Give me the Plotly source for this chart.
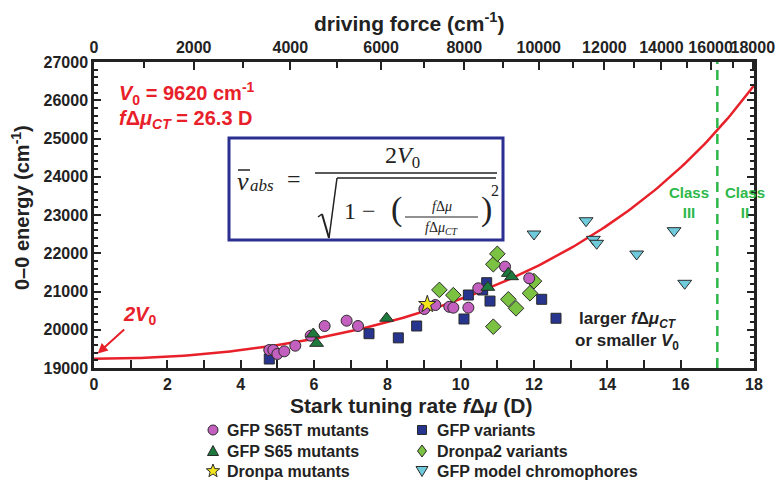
import numpy as np
import plotly.graph_objects as go

# ---------------- data ----------------
V0 = 9620.0          # cm-1
F_CT = 26.3          # D

s65t_x = [4.78, 4.89, 5.00, 5.19, 5.49, 5.91, 6.29, 6.89, 7.20, 9.01, 9.31, 9.69, 9.80, 10.21, 10.48, 11.21, 11.87]
s65t_y = [19470, 19470, 19366, 19436, 19583, 19845, 20098, 20237, 20098, 20542, 20647, 20600, 20577, 20577, 21084, 21650, 21345]

s65_x = [5.98, 6.07, 7.98, 10.74, 11.30, 11.39]
s65_y = [19889, 19645, 20300, 21110, 21475, 21387]

dronpa_x = [9.09]
dronpa_y = [20665]

gfpvar_x = [4.78, 7.50, 8.30, 8.80, 10.09, 10.21, 10.60, 10.71, 10.80, 12.21, 12.60]
gfpvar_y = [19235, 19897, 19788, 20098, 20281, 20908, 21040, 21230, 20750, 20796, 20300]

dronpa2_x = [9.42, 9.80, 10.89, 11.00, 10.89, 11.30, 11.51, 11.89, 12.00]
dronpa2_y = [21042, 20905, 21712, 21985, 20080, 20796, 20560, 20953, 21270]

model_x = [12.00, 13.42, 13.62, 13.71, 14.80, 15.82, 16.11]
model_y = [22503, 22850, 22364, 22260, 21980, 22590, 21214]

top_major = [0, 2000, 4000, 6000, 8000, 10000, 12000, 14000, 16000, 18000]
top_minor = [1000, 3000, 5000, 7000, 9000, 11000, 13000, 15000, 17000]

class_boundary = 17.0

# ---------------- helpers ----------------
PX0, PX1, PY0, PY1 = 94, 754, 62, 368
def P(px, py):
    return (px - PX0) / (PX1 - PX0), (PY1 - py) / (PY1 - PY0)

def drive_to_x(d):
    d = np.asarray(d, dtype=float)
    return F_CT * d / np.sqrt(d ** 2 + (2 * V0) ** 2)

FONT = "Liberation Sans"
SERIF = "Liberation Serif"
RED = "#e8202a"
GREEN = "#2db84a"
INK = "#222222"
EDGE = dict(color="#2a2a2a", width=1)

fig = go.Figure()

xc = np.linspace(0, 18, 200)
yc = 2 * V0 / np.sqrt(1 - (xc / F_CT) ** 2)
fig.add_trace(go.Scatter(x=xc, y=yc, mode="lines", line=dict(color=RED, width=2.5),
                         showlegend=False, hoverinfo="skip"))

# (x, y, name, symbol, colour, size, legend column, legend row)
series = [
    (gfpvar_x, gfpvar_y, "GFP variants", "square", "#27358f", 10, 1, 0),
    (dronpa2_x, dronpa2_y, "Dronpa2 variants", "diamond", "#7cc242", 12, 1, 1),
    (model_x, model_y, "GFP model chromophores", "triangle-down", "#6fcbdc", 12, 1, 2),
    (s65t_x, s65t_y, "GFP S65T mutants", "circle", "#c25fbf", 11, 0, 0),
    (s65_x, s65_y, "GFP S65 mutants", "triangle-up", "#1d7a3c", 12, 0, 1),
    (dronpa_x, dronpa_y, "Dronpa mutants", "star", "#f3e51c", 13, 0, 2),
]
for x, y, name, sym, col, size, c, r in series:
    fig.add_trace(go.Scatter(x=x, y=y, mode="markers", name=name, showlegend=False,
                             marker=dict(symbol=sym, color=col, size=size, line=EDGE)))

# invisible trace to hold the top axis
fig.add_trace(go.Scatter(x=[0, 18], y=[19000, 19000], xaxis="x2", mode="lines",
                         line=dict(width=0), opacity=0, showlegend=False, hoverinfo="skip"))

tickfont = dict(family=FONT, size=16, color=INK, weight="bold")
fig.update_layout(
    width=779, height=481, showlegend=False,
    margin=dict(l=PX0, r=779 - PX1, t=PY0, b=481 - PY1, autoexpand=False),
    paper_bgcolor="white", plot_bgcolor="white",
    font=dict(family=FONT, color=INK),
    xaxis=dict(range=[0, 18], tickvals=list(range(0, 19, 2)), ticks="inside", ticklen=8, tickwidth=2,
               minor=dict(dtick=1, ticks="inside", ticklen=8, tickwidth=2, tickcolor=INK),
               showline=True, linewidth=2.5, linecolor=INK, mirror=False, showgrid=False, zeroline=False,
               tickfont=tickfont, tickcolor=INK, tickangle=0, automargin=False),
    xaxis2=dict(overlaying="x", side="top", range=[0, 18], tickmode="array",
                tickvals=list(drive_to_x(top_major)), ticktext=[str(v) for v in top_major],
                ticks="inside", ticklen=8, tickwidth=2, tickcolor=INK, tickangle=0, automargin=False,
                minor=dict(tickmode="array", tickvals=list(drive_to_x(top_minor)), ticks="inside",
                           ticklen=6, tickwidth=2, tickcolor=INK),
                showline=True, linewidth=2.5, linecolor=INK, showgrid=False, zeroline=False,
                tickfont=tickfont),
    yaxis=dict(range=[19000, 27000], dtick=1000, ticks="inside", ticklen=7, tickwidth=2, tickcolor=INK,
               minor=dict(dtick=200, ticks="inside", ticklen=4, tickwidth=1.5, tickcolor=INK),
               showline=True, linewidth=2.5, linecolor=INK, mirror="ticks", showgrid=False, zeroline=False,
               tickfont=tickfont, tickformat="d", automargin=False),
)

# class boundary
fig.add_shape(type="line", x0=class_boundary, x1=class_boundary, y0=19000, y1=27000, xref="x", yref="y",
              line=dict(color=GREEN, width=2.5, dash="10px,6px"))

ann = []
def A(px, py, text, size, color=INK, family=FONT, xanchor="center", align="center", angle=0):
    x, y = P(px, py)
    ann.append(dict(x=x, y=y, xref="paper", yref="paper", text=text, showarrow=False,
                    xanchor=xanchor, yanchor="middle", align=align, textangle=angle,
                    font=dict(family=family, size=size, color=color)))

# ---- manual legend (symbols drawn as shapes, names as text) ----
LEG_COL_MARK = [213, 422]
LEG_COL_TEXT = [225, 435]
LEG_ROW_Y = [430, 451, 471]

def path_shape(pts, color):
    d = "M " + " L ".join(f"{P(px, py)[0]:.5f},{P(px, py)[1]:.5f}" for px, py in pts) + " Z"
    fig.add_shape(type="path", xref="paper", yref="paper", path=d, fillcolor=color,
                  line=dict(color="#2a2a2a", width=1), layer="above")

def legend_symbol(sym, color, cx, cy):
    if sym == "circle":
        (x0, y0), (x1, y1) = P(cx - 5, cy + 5), P(cx + 5, cy - 5)
        fig.add_shape(type="circle", xref="paper", yref="paper", x0=x0, y0=y0, x1=x1, y1=y1,
                      fillcolor=color, line=dict(color="#2a2a2a", width=1), layer="above")
    elif sym == "square":
        path_shape([(cx - 4.5, cy - 4.5), (cx + 4.5, cy - 4.5), (cx + 4.5, cy + 4.5), (cx - 4.5, cy + 4.5)], color)
    elif sym == "diamond":
        path_shape([(cx, cy - 6), (cx + 4.5, cy), (cx, cy + 6), (cx - 4.5, cy)], color)
    elif sym == "triangle-up":
        path_shape([(cx, cy - 5.5), (cx + 5.5, cy + 4.5), (cx - 5.5, cy + 4.5)], color)
    elif sym == "triangle-down":
        path_shape([(cx - 6, cy - 4.5), (cx + 6, cy - 4.5), (cx, cy + 5.5)], color)
    elif sym == "star":
        pts = []
        for k in range(10):
            ang = -np.pi / 2 + k * np.pi / 5
            rad = 7 if k % 2 == 0 else 3
            pts.append((cx + rad * np.cos(ang), cy + rad * np.sin(ang)))
        path_shape(pts, color)

for x, y, name, sym, col, size, c, r in series:
    legend_symbol(sym, col, LEG_COL_MARK[c], LEG_ROW_Y[r])
    A(LEG_COL_TEXT[c], LEG_ROW_Y[r], f"<b>{name}</b>", 16, xanchor="left")

# axis titles
A(409, 22, "<b>driving force (cm<sup>-1</sup>)</b>", 21)
A(411, 405, "<b>Stark tuning rate <i>f</i>Δ<i>μ</i> (D)</b>", 21)
A(20, 208, "<b>0–0 energy (cm<sup>-1</sup>)</b>", 20, angle=-90)

A(117, 93, "<b><i>V</i><sub>0</sub> = 9620 cm<sup>-1</sup></b>", 20, RED, xanchor="left")
A(117, 119, "<b><i>f</i>Δ<i>μ</i><sub><i>CT</i></sub> = 26.3 D</b>", 20, RED, xanchor="left")
A(689, 202, "<b>Class<br>III</b>", 15, GREEN)
A(745, 202, "<b>Class<br>II</b>", 15, GREEN)
A(627, 331, "<b>larger <i>f</i>Δ<i>μ</i><sub><i>CT</i></sub><br>or smaller <i>V</i><sub>0</sub></b>", 17)

# formula box
bx0, by0 = P(229, 240)
bx1, by1 = P(503, 138)
fig.add_shape(type="rect", xref="paper", yref="paper", x0=bx0, x1=bx1, y0=by0, y1=by1,
              line=dict(color="#2b2f8f", width=3), fillcolor="white", layer="above")
A(243, 181, "<i>ν</i>", 26, family=SERIF)
A(262, 185, "<i>abs</i>", 17, family=SERIF)
A(294, 179, "=", 24, family=SERIF)
A(402, 157, "2<i>V</i><sub>0</sub>", 24, family=SERIF)
A(360, 211, "1 −", 24, family=SERIF)
A(396, 209, "(", 34, family=SERIF)
A(486, 209, ")", 34, family=SERIF)
A(495, 190, "2", 16, family=SERIF)
A(442, 206, "<i>f</i>Δ<i>μ</i>", 14, family=SERIF)
A(442, 228, "<i>f</i>Δ<i>μ</i><sub><i>CT</i></sub>", 14, family=SERIF)

def seg(p, q, w=1.5):
    a, b = P(*p); c, d = P(*q)
    fig.add_shape(type="line", xref="paper", yref="paper", x0=a, y0=b, x1=c, y1=d,
                  line=dict(color=INK, width=w), layer="above")
seg((238, 170), (250, 170))     # macron over nu
seg((315, 173), (497, 173))     # main fraction bar
seg((405, 217), (478, 217), 1)  # inner fraction bar
seg((318, 217), (322, 214))
seg((322, 214), (329, 238), 2)
seg((329, 238), (337, 178))
seg((337, 178), (496, 178))

# 2V0 arrow
ann.append(dict(x=0.1, y=19380, xref="x", yref="y", text="<b><i>2V</i><sub>0</sub></b>",
                showarrow=True, arrowhead=2, arrowsize=1, arrowwidth=2, arrowcolor=RED,
                ax=42, ay=-38, font=dict(family=FONT, size=20, color=RED)))
fig.update_layout(annotations=ann)

fig.write_html("out.html", config={"displayModeBar": False},
               post_script="document.body.style.margin='0';document.body.style.overflow='hidden';")
